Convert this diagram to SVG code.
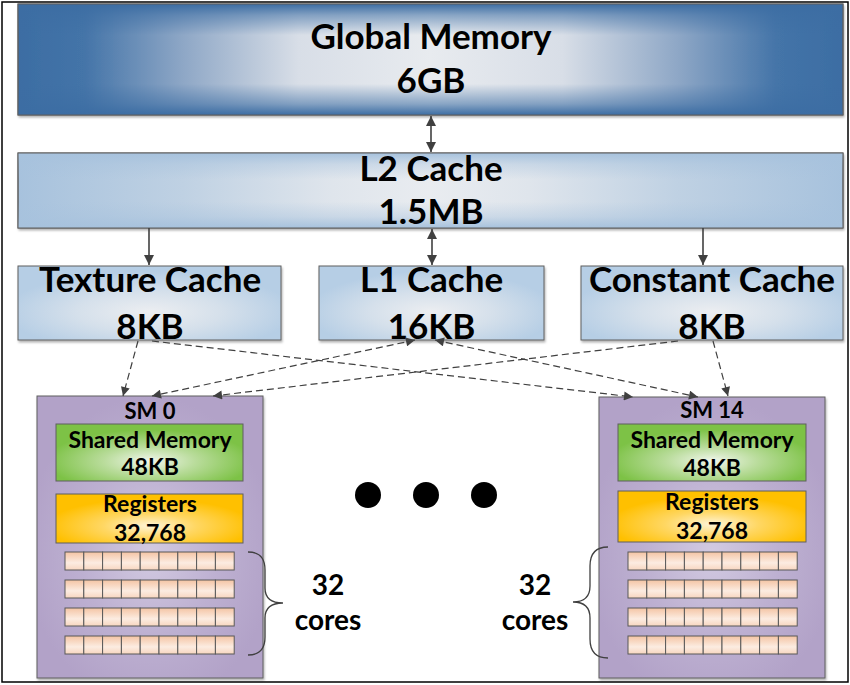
<svg xmlns="http://www.w3.org/2000/svg" width="850" height="685" viewBox="0 0 850 685">
<style>
  .t { font-family: Lato, "Open Sans", "Liberation Sans", sans-serif; font-weight: bold; fill: #000; text-anchor: middle; }
  .big { font-size: 35px; }
  .mid { font-size: 23px; }
  .sm { font-size: 22px; }
  .lbl { font-size: 28px; }
  .box { stroke: #5f5f5f; stroke-width: 1; }
  .cell { fill: url(#gCell); stroke: #595959; stroke-width: 1; }
  .solid { stroke: #404040; stroke-width: 1.6; fill: none; }
  .dash { stroke: #404040; stroke-width: 1.2; fill: none; stroke-dasharray: 7 4; }
  .brace { stroke: #404040; stroke-width: 1.3; fill: none; }
</style>
<defs>
  <linearGradient id="gGlobalH" x1="0" y1="0" x2="1" y2="0">
    <stop offset="0" stop-color="#3c6da3"/>
    <stop offset="0.08" stop-color="#4474a8"/>
    <stop offset="0.2" stop-color="#8ea7c6"/>
    <stop offset="0.34" stop-color="#d8dee7"/>
    <stop offset="0.5" stop-color="#e8ebef"/>
    <stop offset="0.66" stop-color="#d8dee7"/>
    <stop offset="0.8" stop-color="#8ea7c6"/>
    <stop offset="0.92" stop-color="#4474a8"/>
    <stop offset="1" stop-color="#3c6da3"/>
  </linearGradient>
  <linearGradient id="gGlobalV" x1="0" y1="0" x2="0" y2="1">
    <stop offset="0" stop-color="#3c6da3" stop-opacity="1"/>
    <stop offset="0.1" stop-color="#3c6da3" stop-opacity="0.55"/>
    <stop offset="0.28" stop-color="#3c6da3" stop-opacity="0"/>
    <stop offset="0.72" stop-color="#3c6da3" stop-opacity="0"/>
    <stop offset="0.9" stop-color="#3c6da3" stop-opacity="0.55"/>
    <stop offset="1" stop-color="#3c6da3" stop-opacity="1"/>
  </linearGradient>
  <linearGradient id="gL2H" x1="0" y1="0" x2="1" y2="0">
    <stop offset="0" stop-color="#a7c2dd"/>
    <stop offset="0.2" stop-color="#bfd1e3"/>
    <stop offset="0.38" stop-color="#dfe5ec"/>
    <stop offset="0.5" stop-color="#e9ecf0"/>
    <stop offset="0.62" stop-color="#dfe5ec"/>
    <stop offset="0.8" stop-color="#bfd1e3"/>
    <stop offset="1" stop-color="#a7c2dd"/>
  </linearGradient>
  <linearGradient id="gL2V" x1="0" y1="0" x2="0" y2="1">
    <stop offset="0" stop-color="#a7c2dd" stop-opacity="1"/>
    <stop offset="0.15" stop-color="#a7c2dd" stop-opacity="0.4"/>
    <stop offset="0.35" stop-color="#a7c2dd" stop-opacity="0"/>
    <stop offset="0.65" stop-color="#a7c2dd" stop-opacity="0"/>
    <stop offset="0.85" stop-color="#a7c2dd" stop-opacity="0.4"/>
    <stop offset="1" stop-color="#a7c2dd" stop-opacity="1"/>
  </linearGradient>
  <radialGradient id="gCache" cx="0.5" cy="0.62" r="0.55">
    <stop offset="0" stop-color="#eceef1"/>
    <stop offset="0.5" stop-color="#d5e0eb"/>
    <stop offset="1" stop-color="#b6cee5"/>
  </radialGradient>
  <radialGradient id="gSM" cx="0.5" cy="0.55" r="0.55">
    <stop offset="0" stop-color="#d2cae1"/>
    <stop offset="0.55" stop-color="#bdb0d1"/>
    <stop offset="1" stop-color="#b2a2c8"/>
  </radialGradient>
  <radialGradient id="gShared" cx="0.5" cy="0.65" r="0.55">
    <stop offset="0" stop-color="#f1f6ec"/>
    <stop offset="0.45" stop-color="#b9dc9b"/>
    <stop offset="1" stop-color="#7dc246"/>
  </radialGradient>
  <radialGradient id="gReg" cx="0.5" cy="0.65" r="0.55">
    <stop offset="0" stop-color="#fff4d6"/>
    <stop offset="0.45" stop-color="#ffd763"/>
    <stop offset="1" stop-color="#ffc000"/>
  </radialGradient>
  <linearGradient id="gCell" x1="0" y1="0" x2="0" y2="1">
    <stop offset="0" stop-color="#f4c4a4"/>
    <stop offset="0.6" stop-color="#fcece1"/>
    <stop offset="1" stop-color="#f7d6c0"/>
  </linearGradient>
  <filter id="sh" x="-5%" y="-5%" width="110%" height="115%">
    <feDropShadow dx="1" dy="2" stdDeviation="1" flood-color="#000" flood-opacity="0.3"/>
  </filter>
  <marker id="ah" viewBox="0 0 10 10" refX="10" refY="5" markerWidth="12" markerHeight="10" markerUnits="userSpaceOnUse" orient="auto-start-reverse">
    <path d="M0,0 L10,5 L0,10 z" fill="#404040"/>
  </marker>
  <marker id="ahd" viewBox="0 0 10 10" refX="10" refY="5" markerWidth="12" markerHeight="9" markerUnits="userSpaceOnUse" orient="auto-start-reverse">
    <path d="M0,0 L10,5 L0,10 z" fill="#404040"/>
  </marker>
  <g id="row">
    <rect class="cell" x="0" y="0" width="18.8" height="18"/>
    <rect class="cell" x="18.8" y="0" width="18.8" height="18"/>
    <rect class="cell" x="37.6" y="0" width="18.8" height="18"/>
    <rect class="cell" x="56.4" y="0" width="18.8" height="18"/>
    <rect class="cell" x="75.2" y="0" width="18.8" height="18"/>
    <rect class="cell" x="94" y="0" width="18.8" height="18"/>
    <rect class="cell" x="112.8" y="0" width="18.8" height="18"/>
    <rect class="cell" x="131.6" y="0" width="18.8" height="18"/>
    <rect class="cell" x="150.4" y="0" width="18.8" height="18"/>
  </g>
</defs>

<rect x="2" y="2" width="846" height="680" fill="#fff" stroke="#000" stroke-width="1.5"/>

<g id="global-memory">
  <rect class="box" x="18" y="4" width="825" height="111" fill="url(#gGlobalH)" filter="url(#sh)"/>
  <rect x="18" y="4" width="825" height="111" fill="url(#gGlobalV)"/>
  <rect x="18" y="4" width="825" height="111" fill="none" class="box"/>
  <text class="t big" x="431" y="49">Global Memory</text>
  <text class="t big" x="431" y="93">6GB</text>
</g>

<g id="l2-cache">
  <rect class="box" x="18" y="153" width="825" height="75" fill="url(#gL2H)" filter="url(#sh)"/>
  <rect x="18" y="153" width="825" height="75" fill="url(#gL2V)"/>
  <rect x="18" y="153" width="825" height="75" fill="none" class="box"/>
  <text class="t big" x="431" y="181">L2 Cache</text>
  <text class="t big" x="431" y="224">1.5MB</text>
</g>

<g id="texture-cache">
  <rect class="box" x="18" y="266" width="263" height="74" fill="url(#gCache)" filter="url(#sh)"/>
  <text class="t big" x="150" y="292">Texture Cache</text>
  <text class="t big" x="150" y="339">8KB</text>
</g>

<g id="l1-cache">
  <rect class="box" x="319" y="266" width="225" height="74" fill="url(#gCache)" filter="url(#sh)"/>
  <text class="t big" x="431.5" y="292">L1 Cache</text>
  <text class="t big" x="431.5" y="339">16KB</text>
</g>

<g id="constant-cache">
  <rect class="box" x="581" y="266" width="262" height="74" fill="url(#gCache)" filter="url(#sh)"/>
  <text class="t big" x="712" y="292">Constant Cache</text>
  <text class="t big" x="712" y="339">8KB</text>
</g>

<g id="sm0">
  <rect class="box" x="37" y="396" width="226" height="282" fill="url(#gSM)" filter="url(#sh)"/>
  <text class="t sm" x="150" y="419">SM 0</text>
  <rect class="box" x="56" y="424" width="187" height="57" fill="url(#gShared)"/>
  <text class="t mid" x="150" y="448">Shared Memory</text>
  <text class="t mid" x="150" y="475">48KB</text>
  <rect class="box" x="56" y="494" width="187" height="49" fill="url(#gReg)"/>
  <text class="t mid" x="150" y="512">Registers</text>
  <text class="t mid" x="150" y="541">32,768</text>
  <use href="#row" x="65" y="552"/>
  <use href="#row" x="65" y="580"/>
  <use href="#row" x="65" y="608"/>
  <use href="#row" x="65" y="636"/>
</g>

<g id="sm14">
  <rect class="box" x="599" y="397" width="226" height="281" fill="url(#gSM)" filter="url(#sh)"/>
  <text class="t sm" x="712" y="418">SM 14</text>
  <rect class="box" x="618" y="424" width="188" height="57" fill="url(#gShared)"/>
  <text class="t mid" x="712" y="448">Shared Memory</text>
  <text class="t mid" x="712" y="476">48KB</text>
  <rect class="box" x="618" y="491" width="188" height="51" fill="url(#gReg)"/>
  <text class="t mid" x="712" y="510">Registers</text>
  <text class="t mid" x="712" y="539">32,768</text>
  <use href="#row" x="628" y="552"/>
  <use href="#row" x="628" y="580"/>
  <use href="#row" x="628" y="608"/>
  <use href="#row" x="628" y="636"/>
</g>

<g id="cores-label-left">
  <path class="brace" d="M248,552 Q265,552 265,570 L265,588 Q265,603 283,603 Q265,603 265,618 L265,637 Q265,655 248,655"/>
  <text class="t lbl" x="328" y="595">32</text>
  <text class="t lbl" x="328" y="630">cores</text>
</g>

<g id="cores-label-right">
  <path class="brace" d="M608,547 Q590,547 590,566 L590,586 Q590,602 573,602 Q590,602 590,618 L590,639 Q590,658 608,658"/>
  <text class="t lbl" x="535" y="595">32</text>
  <text class="t lbl" x="535" y="630">cores</text>
</g>

<g id="ellipsis">
  <circle cx="368" cy="495" r="13" fill="#000"/>
  <circle cx="426" cy="495" r="13" fill="#000"/>
  <circle cx="484" cy="495" r="13" fill="#000"/>
</g>

<g id="connectors">
  <line class="solid" x1="431" y1="116" x2="431" y2="152" marker-start="url(#ah)" marker-end="url(#ah)"/>
  <line class="solid" x1="149" y1="228" x2="149" y2="265" marker-end="url(#ah)"/>
  <line class="solid" x1="432" y1="229" x2="432" y2="265" marker-start="url(#ah)" marker-end="url(#ah)"/>
  <line class="solid" x1="703" y1="228" x2="703" y2="265" marker-end="url(#ah)"/>

  <line class="dash" x1="138" y1="341" x2="123" y2="396" marker-end="url(#ahd)"/>
  <line class="dash" x1="152" y1="341" x2="633" y2="397" marker-end="url(#ahd)"/>
  <line class="dash" x1="415" y1="340" x2="152" y2="396" marker-start="url(#ahd)" marker-end="url(#ahd)"/>
  <line class="dash" x1="435" y1="340" x2="698" y2="397" marker-start="url(#ahd)" marker-end="url(#ahd)"/>
  <line class="dash" x1="678" y1="341" x2="213" y2="396" marker-end="url(#ahd)"/>
  <line class="dash" x1="713" y1="341" x2="728" y2="396" marker-end="url(#ahd)"/>
</g>
</svg>
